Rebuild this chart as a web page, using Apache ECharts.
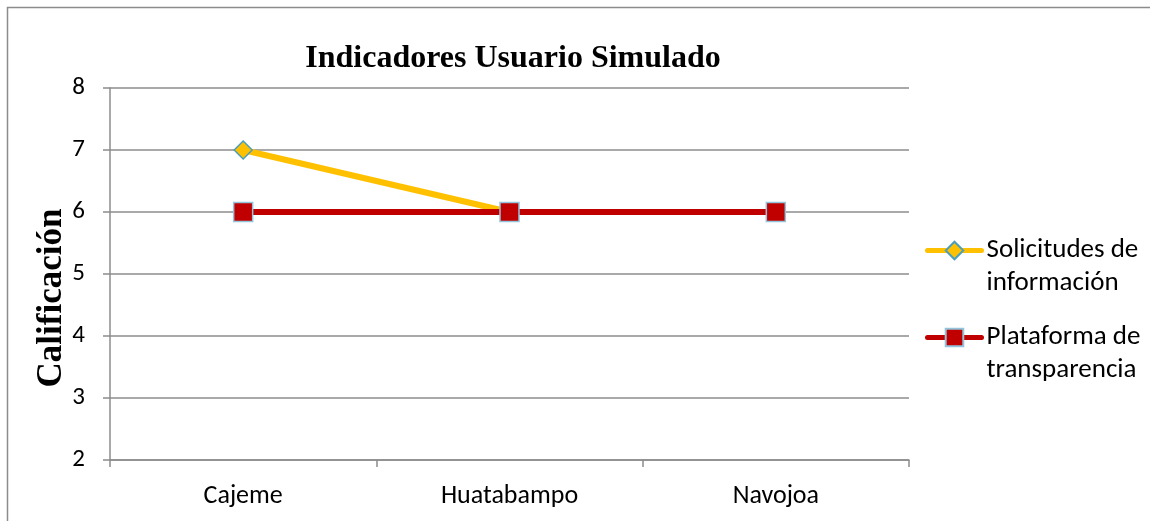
<!DOCTYPE html>
<html>
<head>
<meta charset="utf-8">
<script src="https://cdn.jsdelivr.net/npm/echarts@6/dist/echarts.min.js"></script>
<style>
	html, body { margin: 0; padding: 0; background: #fff; }
	#chart { width: 1150px; height: 521px; }
</style>
</head>
<body>
<div id="chart"></div>
<script>
	// datos
	const municipios = ['Cajeme', 'Huatabampo', 'Navojoa']
	const solicitudes = [7, 6, 6]
	const plataforma = [6, 6, 6]
	const yMin = 2
	const yMax = 8

	const chart = echarts.init(document.getElementById('chart'))
	const labelFont = 'Calibri, Carlito, Lato, "Open Sans", sans-serif'
	const serifFont = '"Liberation Serif", "Times New Roman", serif'

	// leyenda: una linea en blanco arriba para que el icono quede a la altura de la primera linea
	function legendText(name) {
		return ' \n' + name.replace(' de ', ' de\n')
	}
	function makeLegend(name, top) {
		return {
			orient: 'vertical',
			left: 925,
			top: top,
			padding: 0,
			itemWidth: 54,
			itemHeight: 22,
			itemGap: 0,
			lineStyle: { width: 5, cap: 'round' },
			textStyle: {
				fontFamily: labelFont,
				fontSize: 27,
				color: '#000',
				lineHeight: 33
			},
			formatter: legendText,
			data: [name]
		}
	}

	var option = {
		backgroundColor: '#fff',
		animation: false,
		title: {
			text: 'Indicadores Usuario Simulado',
			left: 508,
			top: 38,
			textAlign: 'center',
			textStyle: {
				fontFamily: serifFont,
				fontWeight: 'bold',
				fontSize: 32,
				color: '#000'
			}
		},
		graphic: [
			{
				type: 'rect',
				shape: { x: 7.5, y: 7.5, width: 1160, height: 530 },
				style: { fill: 'none', stroke: '#8c8c8c', lineWidth: 1.5 },
				silent: true
			}
		],
		grid: {
			left: 110,
			right: 241,
			top: 88,
			bottom: 61,
			containLabel: false
		},
		legend: [
			makeLegend('Solicitudes de información', 201),
			makeLegend('Plataforma de transparencia', 288)
		],
		xAxis: {
			type: 'category',
			data: municipios,
			boundaryGap: true,
			axisLine: { lineStyle: { color: '#8c8c8c', width: 1.5 } },
			axisTick: { show: true, length: 7, lineStyle: { color: '#8c8c8c', width: 1.5 } },
			axisLabel: {
				fontFamily: labelFont,
				fontSize: 26,
				color: '#000',
				margin: 23
			}
		},
		yAxis: {
			type: 'value',
			min: yMin,
			max: yMax,
			interval: 1,
			name: 'Calificación',
			nameLocation: 'middle',
			nameGap: 41,
			nameMoveOverlap: false,
			nameTextStyle: {
				fontFamily: serifFont,
				fontWeight: 'bold',
				fontSize: 35,
				color: '#000',
				padding: [0, 48, 0, 0]
			},
			axisLine: { show: true, lineStyle: { color: '#8c8c8c', width: 1.5 } },
			axisTick: { show: true, length: 7, lineStyle: { color: '#8c8c8c', width: 1.5 } },
			splitLine: { show: true, lineStyle: { color: '#8c8c8c', width: 1.5 } },
			axisLabel: {
				fontFamily: labelFont,
				fontSize: 25,
				color: '#000',
				margin: 25
			}
		},
		series: [
			{
				name: 'Solicitudes de información',
				type: 'line',
				data: solicitudes,
				z: 2,
				symbol: 'diamond',
				symbolSize: 18,
				lineStyle: { color: '#ffc000', width: 6 },
				itemStyle: { color: '#ffc000', borderColor: '#4a9fbd', borderWidth: 1.5 }
			},
			{
				name: 'Plataforma de transparencia',
				type: 'line',
				data: plataforma,
				z: 3,
				symbol: 'rect',
				symbolSize: 19,
				lineStyle: { color: '#c00000', width: 6 },
				itemStyle: { color: '#c00000', borderColor: '#92c5db', borderWidth: 1.5 }
			}
		]
	}
	chart.setOption(option)
</script>
</body>
</html>
